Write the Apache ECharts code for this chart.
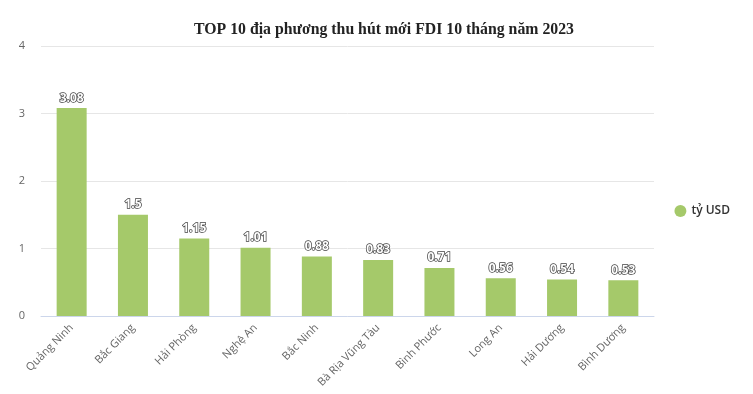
<!DOCTYPE html>
<html><head><meta charset="utf-8">
<script src="https://cdn.jsdelivr.net/npm/echarts@6/dist/echarts.min.js"></script>
<style>html,body{margin:0;padding:0;background:#fff}#c{width:753px;height:394px}</style>
</head><body><div id="c"></div>
<script>
const categories = ['Quảng Ninh','Bắc Giang','Hải Phòng','Nghệ An','Bắc Ninh','Bà Rịa Vũng Tàu','Bình Phước','Long An','Hải Dương','Bình Dương'];
const values = [3.08, 1.5, 1.15, 1.01, 0.88, 0.83, 0.71, 0.56, 0.54, 0.53];
const seriesName = 'tỷ USD';
const titleText = 'TOP 10 địa phương thu hút mới FDI 10 tháng năm 2023';

const chart = echarts.init(document.getElementById('c'));
chart.setOption({
  animation: false,
  title: {
    text: titleText, left: 189, top: 17,
    textStyle: {fontFamily: 'Liberation Serif', fontWeight: 'bold', fontSize: 15.8, color: '#222'}
  },
  legend: {
    orient: 'vertical', right: 18, top: 200,
    icon: 'circle', itemWidth: 12, itemHeight: 12, itemGap: 8,
    textStyle: {fontFamily: 'Open Sans', fontSize: 12, color: '#333', fontWeight: 600},
    data: [seriesName]
  },
  grid: {left: 41, right: 99, top: 46, bottom: 78},
  xAxis: {
    type: 'category', data: categories,
    axisLine: {lineStyle: {color: '#ccd6eb'}},
    axisTick: {show: false},
    axisLabel: {rotate: 45, color: '#666', fontFamily: 'Open Sans', fontSize: 11, interval: 0, margin: 10}
  },
  yAxis: {
    type: 'value', min: 0, max: 4, interval: 1,
    axisLabel: {color: '#666', fontFamily: 'Open Sans', fontSize: 11, margin: 16},
    splitLine: {lineStyle: {color: '#e6e6e6'}}
  },
  series: [{
    name: seriesName, type: 'bar', data: values, barWidth: 30,
    itemStyle: {color: '#a5c96a'},
    label: {
      show: true, position: 'top', distance: 4,
      color: '#fff', fontFamily: 'Open Sans', fontWeight: 'bold', fontSize: 12,
      textBorderColor: '#444', textBorderWidth: 1.5
    }
  }]
});
</script></body></html>
